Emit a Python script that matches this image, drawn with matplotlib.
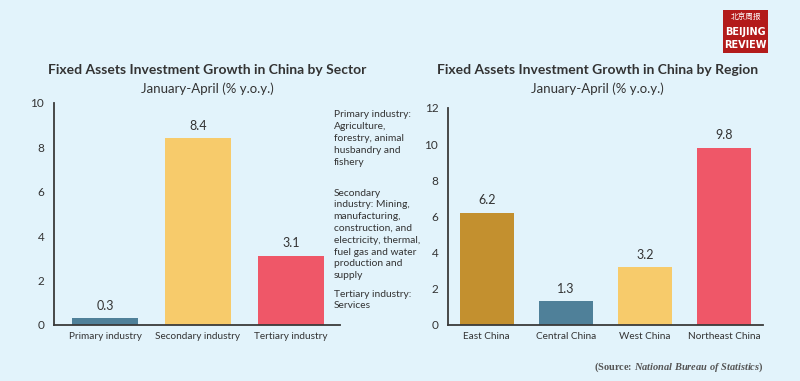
import matplotlib
matplotlib.use("Agg")
import matplotlib.pyplot as plt
from matplotlib.patches import Rectangle

# data
sectors = ["Primary industry", "Secondary industry", "Tertiary industry"]
sector_growth = [0.3, 8.4, 3.1]
sector_colors = ["#4f8099", "#f7cb6b", "#ef5768"]

regions = ["East China", "Central China", "West China", "Northeast China"]
region_growth = [6.2, 1.3, 3.2, 9.8]
region_colors = ["#c3902f", "#4f8099", "#f7cb6b", "#ef5768"]

notes = [
    "Primary industry:\nAgriculture,\nforestry, animal\nhusbandry and\nfishery",
    "Secondary\nindustry: Mining,\nmanufacturing,\nconstruction, and\nelectricity, thermal,\nfuel gas and water\nproduction and\nsupply",
    "Tertiary industry:\nServices",
]

BG = "#e2f3fb"
TXT = "#333333"

plt.rcParams["font.family"] = ["Lato", "DejaVu Sans"]
plt.rcParams["mathtext.fontset"] = "custom"
plt.rcParams["mathtext.it"] = "Liberation Serif:italic:bold"
plt.rcParams["mathtext.rm"] = "Liberation Serif"

fig = plt.figure(figsize=(8, 3.81), dpi=100, facecolor=BG)


def style_axis(ax):
    ax.set_facecolor(BG)
    for s in ["top", "right"]:
        ax.spines[s].set_visible(False)
    for s in ["left", "bottom"]:
        ax.spines[s].set_color("#3a3a3a")
        ax.spines[s].set_linewidth(1.3)
    ax.tick_params(length=0, colors=TXT, pad=5)
    ax.tick_params(axis="x", labelsize=7.2)
    ax.tick_params(axis="y", labelsize=8.5, pad=7)


# left chart
ax1 = fig.add_axes([0.0675, 0.147, 0.3575, 0.583])
ax1.bar(range(len(sectors)), sector_growth, width=0.71, color=sector_colors)
for i, v in enumerate(sector_growth):
    ax1.text(i, v + 0.3, f"{v}", ha="center", va="bottom", fontsize=9, color=TXT)
ax1.set_xticks(range(len(sectors)))
ax1.set_xticklabels(sectors)
ax1.set_xlim(-0.55, 2.53)
ax1.set_ylim(0, 10)
ax1.set_yticks(range(0, 11, 2))
style_axis(ax1)

fig.text(0.259, 0.815, "Fixed Assets Investment Growth in China by Sector",
         ha="center", va="center", fontsize=10, fontweight="bold", color=TXT)
fig.text(0.259, 0.768, "January-April (% y.o.y.)", ha="center", va="center",
         fontsize=9.5, color=TXT)

note_y = [0.71, 0.505, 0.24]
for t, y in zip(notes, note_y):
    fig.text(0.417, y, t, ha="left", va="top", fontsize=7.4, color=TXT,
             linespacing=1.4)

# right chart
ax2 = fig.add_axes([0.56, 0.147, 0.394, 0.57])
ax2.bar(range(len(regions)), region_growth, width=0.68, color=region_colors)
for i, v in enumerate(region_growth):
    ax2.text(i, v + 0.35, f"{v}", ha="center", va="bottom", fontsize=9, color=TXT)
ax2.set_xticks(range(len(regions)))
ax2.set_xticklabels(regions)
ax2.set_xlim(-0.49, 3.49)
ax2.set_ylim(0, 12)
ax2.set_yticks(range(0, 13, 2))
style_axis(ax2)

fig.text(0.747, 0.815, "Fixed Assets Investment Growth in China by Region",
         ha="center", va="center", fontsize=10, fontweight="bold", color=TXT)
fig.text(0.747, 0.768, "January-April (% y.o.y.)", ha="center", va="center",
         fontsize=9.5, color=TXT)

# source line
fig.text(0.954, 0.036, "(Source: $\\it{National\\ Bureau\\ of\\ Statistics}$)",
         ha="right", va="center", fontsize=7.5, color="#555555",
         family="Liberation Serif", fontweight="bold")

# logo
fig.patches.append(Rectangle((0.904, 0.86), 0.056, 0.115, transform=fig.transFigure,
                             facecolor="#b31b1b", edgecolor="none"))
fig.text(0.932, 0.952, "北京周报", ha="center", va="center", fontsize=5.5,
         color="white", family=["Noto Sans CJK SC", "DejaVu Sans"])
fig.text(0.932, 0.917, "BEIJING", ha="center", va="center", fontsize=7,
         color="white", fontweight="bold", family="Liberation Sans Narrow")
fig.text(0.932, 0.881, "REVIEW", ha="center", va="center", fontsize=7,
         color="white", fontweight="bold", family="Liberation Sans Narrow")

fig.savefig("out.png", dpi=100, facecolor=BG)
